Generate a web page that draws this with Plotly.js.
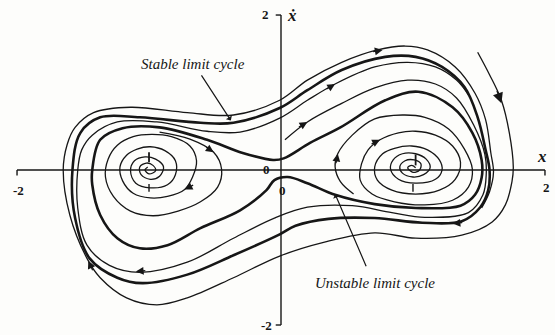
<!DOCTYPE html>
<html>
<head>
<meta charset="utf-8">
<script src="https://cdn.plot.ly/plotly-3.0.1.min.js"></script>
<style>
  html, body { margin: 0; padding: 0; background: #fdfdfb; }
  #chart { width: 555px; height: 335px; }
</style>
</head>
<body>
<div id="chart"></div>
<script>
// Phase plane (x, x-dot): two stable foci at (-1,0) and (1,0), saddle at the origin,
// an unstable limit cycle around all three and a stable limit cycle outside it.

const stableCycle = [
  [-1.58, 0.00], [-1.52, 0.48], [-1.37, 0.68], [-1.07, 0.68], [-0.61, 0.61], [-0.36, 0.61],
  [-0.01, 0.80], [0.20, 1.03], [0.46, 1.29], [0.79, 1.46], [1.02, 1.46], [1.22, 1.33],
  [1.39, 1.07], [1.49, 0.68], [1.55, 0.26], [1.58, 0.00], [1.57, -0.26], [1.51, -0.48],
  [1.37, -0.66], [1.07, -0.68], [0.71, -0.62], [0.36, -0.63], [0.11, -0.72], [-0.01, -0.83],
  [-0.36, -1.10], [-0.71, -1.35], [-1.05, -1.46], [-1.24, -1.39], [-1.45, -1.14],
  [-1.56, -0.62], [-1.58, 0.00]
];

const unstableCycle = [
  [-1.43, 0.00], [-1.37, 0.39], [-1.20, 0.54], [-0.92, 0.55], [-0.56, 0.39], [-0.29, 0.22],
  [-0.06, 0.13], [0.02, 0.15], [0.22, 0.35], [0.45, 0.55], [0.79, 0.90], [1.04, 1.01],
  [1.30, 0.81], [1.45, 0.48], [1.52, 0.13], [1.52, -0.10], [1.47, -0.32], [1.36, -0.46],
  [1.02, -0.49], [0.71, -0.44], [0.41, -0.32], [0.20, -0.17], [0.05, -0.09], [-0.05, -0.13],
  [-0.11, -0.26], [-0.31, -0.52], [-0.61, -0.75], [-0.86, -0.97], [-1.07, -1.01],
  [-1.24, -0.88], [-1.37, -0.58], [-1.43, -0.19], [-1.43, 0.00]
];

// trajectory arriving from outside and winding onto the stable cycle
const outerPath = [
  [1.49, 1.52], [1.58, 1.23], [1.67, 0.90], [1.73, 0.48], [1.76, 0.04], [1.75, -0.15],
  [1.70, -0.45], [1.60, -0.67], [1.37, -0.84], [1.02, -0.88], [0.71, -0.81], [0.33, -0.93],
  [-0.01, -1.11], [-0.36, -1.39], [-0.71, -1.65], [-0.94, -1.74], [-1.17, -1.65],
  [-1.37, -1.39], [-1.47, -1.14], [-1.60, -0.58], [-1.65, 0.00], [-1.62, 0.33],
  [-1.56, 0.55], [-1.42, 0.74], [-1.14, 0.81], [-0.71, 0.74], [-0.36, 0.71], [-0.01, 0.90],
  [0.20, 1.16], [0.46, 1.39], [0.73, 1.55], [0.94, 1.60], [1.11, 1.55], [1.32, 1.33],
  [1.47, 0.99], [1.55, 0.65], [1.59, 0.22], [1.61, -0.03], [1.58, -0.28], [1.52, -0.49]
];

// trajectory leaving the unstable cycle and winding out to the stable one
const betweenPath = [
  [0.03, 0.39], [0.20, 0.62], [0.46, 0.86], [0.71, 1.06], [0.96, 1.16], [1.17, 1.11],
  [1.33, 0.93], [1.46, 0.58], [1.545, 0.20], [1.555, -0.05], [1.53, -0.32], [1.42, -0.55],
  [1.09, -0.61], [0.84, -0.55], [0.54, -0.46], [0.20, -0.48], [-0.05, -0.62], [-0.36, -0.88],
  [-0.71, -1.19], [-1.07, -1.32], [-1.30, -1.23], [-1.47, -0.97], [-1.54, -0.49],
  [-1.54, 0.00], [-1.51, 0.26], [-1.43, 0.45], [-1.24, 0.62], [-0.94, 0.62], [-0.56, 0.50],
  [-0.31, 0.49], [-0.01, 0.67], [0.20, 0.90], [0.41, 1.11], [0.71, 1.33], [0.96, 1.39],
  [1.17, 1.33], [1.33, 1.16], [1.42, 0.97]
];

// spiral into the right focus
const rightSpiral = [
  [0.55, -0.31], [0.45, -0.15], [0.41, 0.04], [0.43, 0.21], [0.54, 0.45], [0.71, 0.66],
  [0.92, 0.71], [1.09, 0.68], [1.27, 0.53], [1.39, 0.27], [1.45, 0.01], [1.42, -0.22],
  [1.30, -0.39], [1.09, -0.45], [0.86, -0.41], [0.69, -0.31], [0.60, -0.13], [0.61, 0.08],
  [0.66, 0.26], [0.75, 0.39], [0.89, 0.48], [1.02, 0.50], [1.17, 0.45], [1.30, 0.31],
  [1.36, 0.10], [1.32, -0.12], [1.20, -0.26], [1.02, -0.31], [0.84, -0.26], [0.73, -0.13],
  [0.71, 0.04], [0.77, 0.21], [0.86, 0.28], [0.99, 0.31], [1.11, 0.26], [1.20, 0.13],
  [1.22, 0.00], [1.17, -0.12], [1.02, -0.17], [0.89, -0.12], [0.83, 0.01], [0.85, 0.13],
  [0.92, 0.21], [1.02, 0.21], [1.10, 0.14], [1.13, 0.03], [1.08, -0.06], [1.00, -0.09],
  [0.92, -0.04], [0.90, 0.04], [0.94, 0.12], [1.01, 0.13], [1.06, 0.08], [1.05, 0.00],
  [1.00, -0.03], [0.96, 0.03], [0.99, 0.06], [1.02, 0.03]
];

// spiral into the left focus
const leftSpiral = [
  [-0.92, 0.49], [-0.69, 0.40], [-0.51, 0.23], [-0.45, 0.01], [-0.48, -0.22], [-0.61, -0.41],
  [-0.78, -0.53], [-0.97, -0.59], [-1.14, -0.53], [-1.27, -0.34], [-1.33, -0.09],
  [-1.31, 0.14], [-1.24, 0.32], [-1.12, 0.43], [-0.98, 0.46], [-0.83, 0.43], [-0.69, 0.31],
  [-0.64, 0.12], [-0.67, -0.09], [-0.73, -0.25], [-0.86, -0.34], [-0.99, -0.36],
  [-1.12, -0.30], [-1.20, -0.14], [-1.22, 0.04], [-1.17, 0.19], [-1.09, 0.27], [-0.99, 0.30],
  [-0.88, 0.25], [-0.80, 0.12], [-0.80, -0.06], [-0.86, -0.19], [-0.99, -0.23],
  [-1.10, -0.17], [-1.14, -0.01], [-1.11, 0.12], [-1.03, 0.17], [-0.95, 0.14], [-0.89, 0.04],
  [-0.92, -0.08], [-0.99, -0.12], [-1.06, -0.06], [-1.07, 0.04], [-1.02, 0.09],
  [-0.97, 0.06], [-0.95, -0.01], [-1.00, -0.05], [-1.03, 0.00], [-1.01, 0.04]
];

// direction arrows: tip [x, y] and tail offset in screen pixels [dx, dy]
const flowArrows = [
  [[0.77, 1.55], [-11, 2]],
  [[0.41, 1.11], [-10, 6]],
  [[0.20, 0.62], [-10, 6]],
  [[0.43, 0.21], [-2, 11]],
  [[0.75, 0.39], [-10, 5]],
  [[-0.51, 0.23], [-9, -6]],
  [[-0.73, -0.25], [10, -5]],
  [[-1.10, -1.31], [11, -1]],
  [[-1.46, -1.17], [5, 11]],
  [[1.30, -0.69], [11, -1]]
];

const axisLabels = [
  { text: '-2', x: -1.99, y: -0.27 },
  { text: '2', x: 2.01, y: -0.23 },
  { text: '2', x: -0.12, y: 2.01 },
  { text: '-2', x: -0.11, y: -2.0 },
  { text: '0', x: -0.11, y: 0.01 },
  { text: '0', x: 0.01, y: -0.26 }
];

const ink = '#161616';
const thin = 1.3, thick = 2.6;

function curve(pts, width) {
  return {
    type: 'scatter', mode: 'lines',
    x: pts.map(p => p[0]), y: pts.map(p => p[1]),
    line: { color: ink, width: width, shape: 'spline', smoothing: 1.0 },
    hoverinfo: 'skip', showlegend: false
  };
}

const traces = [
  curve(outerPath, thin),
  curve(betweenPath, thin),
  curve(leftSpiral, thin),
  curve(rightSpiral, thin),
  curve(stableCycle, thick),
  curve(unstableCycle, thick)
];

const seg = (x0, y0, x1, y1, w) => ({
  type: 'line', xref: 'x', yref: 'y', x0, y0, x1, y1,
  line: { color: ink, width: w }
});

const shapes = [
  seg(-2, 0, 2, 0, 1.4),          // x axis
  seg(0, -2, 0, 2, 1.4),          // x-dot axis
  seg(-2, 0, -2, -0.07, 1.4),
  seg(2, 0, 2, -0.07, 1.4),
  seg(0, 2, -0.04, 2, 1.4),
  seg(0, -2, -0.04, -2, 1.4),
  seg(-1, 0.10, -1, 0.23, 1.8),   // tick marks at the foci
  seg(-1, -0.18, -1, -0.28, 1.4),
  seg(1.02, 0.06, 1.02, 0.20, 1.8),
  seg(1.0, -0.18, 1.0, -0.28, 1.4)
];

const labelFont = { family: 'Liberation Serif, serif', size: 13, color: ink };

const annotations = [];
axisLabels.forEach(l => annotations.push({
  x: l.x, y: l.y, xref: 'x', yref: 'y', text: '<b>' + l.text + '</b>',
  showarrow: false, font: labelFont
}));
annotations.push({
  x: 1.98, y: 0.18, xref: 'x', yref: 'y', text: '<b><i>x</i></b>', showarrow: false,
  font: { family: 'Liberation Serif, serif', size: 17, color: ink }
});
annotations.push({
  x: 0.08, y: 2.0, xref: 'x', yref: 'y', text: '<b><i>ẋ</i></b>', showarrow: false,
  font: { family: 'Liberation Serif, serif', size: 17, color: ink }
});

// cycle captions with pointer lines
annotations.push({
  x: -0.67, y: 1.37, xref: 'x', yref: 'y', text: '<i>Stable limit cycle</i>',
  showarrow: false, font: { family: 'Liberation Serif, serif', size: 15, color: ink }
});
annotations.push({
  x: -0.38, y: 0.64, xref: 'x', yref: 'y', ax: -0.61, ay: 1.24, axref: 'x', ayref: 'y',
  text: '', showarrow: true, arrowhead: 1, arrowsize: 1, arrowwidth: 1.2, arrowcolor: ink
});
annotations.push({
  x: 0.71, y: -1.46, xref: 'x', yref: 'y', text: '<i>Unstable limit cycle</i>',
  showarrow: false, font: { family: 'Liberation Serif, serif', size: 15, color: ink }
});
annotations.push({
  x: 0.41, y: -0.31, xref: 'x', yref: 'y', ax: 0.65, ay: -1.26, axref: 'x', ayref: 'y',
  text: '', showarrow: true, arrowhead: 1, arrowsize: 1, arrowwidth: 1.2, arrowcolor: ink
});

flowArrows.forEach(a => annotations.push({
  x: a[0][0], y: a[0][1], xref: 'x', yref: 'y', ax: a[1][0], ay: a[1][1],
  text: '', showarrow: true, arrowhead: 2, arrowsize: 1.3, arrowwidth: 1.2, arrowcolor: ink,
  standoff: 0
}));
// large arrow on the incoming outer trajectory
annotations.push({
  x: 1.67, y: 0.86, xref: 'x', yref: 'y', ax: -5, ay: -14,
  text: '', showarrow: true, arrowhead: 2, arrowsize: 1.6, arrowwidth: 1.3, arrowcolor: ink
});

const layout = {
  width: 555, height: 335,
  margin: { l: 0, r: 0, t: 0, b: 0 },
  paper_bgcolor: '#fdfdfb', plot_bgcolor: '#fdfdfb',
  xaxis: { range: [-2.129, 2.076], visible: false, fixedrange: true },
  yaxis: { range: [-2.129, 2.194], visible: false, fixedrange: true },
  shapes: shapes,
  annotations: annotations,
  showlegend: false
};

Plotly.newPlot('chart', traces, layout, { staticPlot: true, displayModeBar: false });
</script>
</body>
</html>
